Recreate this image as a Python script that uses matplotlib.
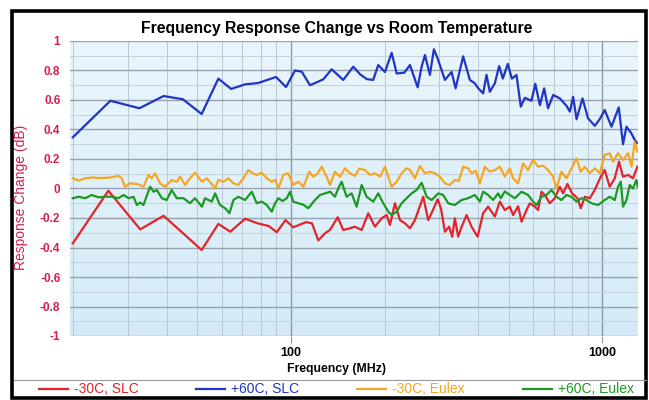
import numpy as np
import matplotlib
matplotlib.use("Agg")
import matplotlib.pyplot as plt
from matplotlib.ticker import FuncFormatter, LogLocator, NullFormatter, FixedLocator
from matplotlib.colors import LinearSegmentedColormap
from matplotlib.patches import Rectangle
from matplotlib.lines import Line2D

plt.rcParams['font.family'] = ['Liberation Sans', 'DejaVu Sans']

# --- data (MHz, dB) ---
freq_slc_cold = [20, 26, 32.9, 39.1, 51.8, 58.6, 64, 71.4, 78.3, 85.2, 90.2, 96.2, 101.9, 112, 117,
                 122.6, 128.8, 133.6, 141.5, 147.4, 154.9, 160.7, 168.9, 177.3, 186.3, 195.8, 203.1,
                 208.1, 216, 224.1, 232.5, 241.3, 250.3, 266.1, 276.1, 284.4, 296, 303.3, 312.4, 322.3,
                 329.6, 336.2, 344.5, 353.3, 366.6, 380.3, 397.6, 414.2, 429.8, 451.6, 468.6, 486.3,
                 504.6, 517.1, 536.5, 550.2, 570.8, 584.8, 606.7, 621.7, 637.5, 653.3, 677.8, 703.3,
                 729.6, 747.6, 772.3, 799, 831.6, 852, 877.7, 910.6, 944.8, 987.6, 1017, 1055, 1095,
                 1130, 1164, 1208, 1253, 1295]
slc_cold = [-0.372, -0.015, -0.277, -0.185, -0.417, -0.24, -0.293, -0.205, -0.236, -0.255, -0.297,
            -0.214, -0.263, -0.228, -0.236, -0.352, -0.304, -0.281, -0.195, -0.281, -0.27, -0.259,
            -0.281, -0.168, -0.259, -0.202, -0.18, -0.247, -0.10, -0.214, -0.236, -0.27, -0.214,
            -0.056, -0.214, -0.157, -0.073, -0.134, -0.293, -0.259, -0.327, -0.202, -0.327, -0.26,
            -0.18, -0.259, -0.327, -0.168, -0.123, -0.19, -0.089, -0.146, -0.123, -0.18, -0.12,
            -0.225, -0.146, -0.10, -0.123, -0.146, -0.022, -0.044, -0.10, -0.066, 0.012, -0.033,
            0.031, -0.033, -0.066, -0.134, -0.056, -0.066, -0.01, 0.08, 0.125, 0.012, 0.069, 0.182,
            0.08, 0.092, 0.069, 0.148]

freq_slc_hot = [20, 26.4, 32.7, 39.1, 45.1, 51.8, 58.6, 64.4, 71.4, 78.6, 89.7, 96.6, 103.2, 108.5,
                115.3, 127.2, 135.3, 147.4, 158.7, 166.8, 175.3, 183.9, 190.9, 200.6, 210.8, 218.7,
                231.3, 241.3, 255.4, 263, 269.5, 279.6, 287.9, 296, 312.3, 328.1, 338, 357.4, 375.5,
                389.6, 399.9, 414.2, 424.7, 435.2, 451.6, 466.2, 479.1, 497, 512, 530, 547, 564, 592,
                609, 630, 650, 669, 695, 730, 767, 786, 805, 826, 863, 899, 945, 980, 1017, 1069, 1128,
                1164, 1194, 1238, 1269, 1290]
slc_hot = [0.347, 0.595, 0.544, 0.627, 0.605, 0.505, 0.745, 0.675, 0.706, 0.715, 0.756, 0.688, 0.80,
           0.792, 0.70, 0.74, 0.808, 0.736, 0.826, 0.775, 0.742, 0.736, 0.837, 0.79, 0.92, 0.78,
           0.785, 0.837, 0.686, 0.826, 0.905, 0.77, 0.944, 0.882, 0.736, 0.79, 0.679, 0.896, 0.736,
           0.713, 0.679, 0.645, 0.77, 0.656, 0.713, 0.83, 0.745, 0.845, 0.745, 0.77, 0.555, 0.615,
           0.595, 0.71, 0.565, 0.679, 0.544, 0.634, 0.611, 0.56, 0.521, 0.622, 0.47, 0.611, 0.476,
           0.425, 0.47, 0.532, 0.419, 0.55, 0.30, 0.419, 0.374, 0.33, 0.31]

freq_eulex_cold = [20, 20.9, 21.9, 23.0, 24.2, 26.0, 28.0, 28.7, 29.4, 30.5, 32.1, 33.7, 35.0, 35.8,
                   36.7, 38.1, 39.5, 41.5, 43.1, 44.2, 45.8, 47.5, 49.3, 51.9, 53.8, 55.8, 57.2,
                   58.6, 60.8, 63.1, 65.5, 67.9, 70.5, 73.1, 75.5, 77.8, 80.7, 83.8, 86.9, 89.1,
                   91.3, 94.7, 98.2, 101.9, 105.8, 109.8, 114.7, 118.1, 121.9, 125.7, 130.4, 133.7,
                   138.7, 143.9, 149.3, 155.0, 160.8, 166.0, 173.1, 179.6, 186.3, 193.4, 200.6,
                   210.8, 218.7, 226.9, 235.4, 241.3, 250.3, 259.7, 269.5, 279.6, 290.1, 301.0,
                   312.3, 324.0, 336.2, 346.2, 357.4, 370.8, 380.3, 392.5, 404.3, 419.5, 435.3,
                   451.6, 468.6, 486.3, 504.5, 517.0, 536.4, 556.5, 577.4, 599.2, 621.7, 645.0,
                   669.3, 694.5, 712.2, 738.9, 766.6, 795.4, 825.4, 851.8, 877.5, 910.4, 944.6,
                   980.1, 1017, 1055, 1082, 1122, 1164, 1208, 1239, 1269, 1295]
eulex_cold = [0.069, 0.053, 0.069, 0.075, 0.071, 0.073, 0.085, 0.07, 0.012, 0.035, 0.031, 0.012,
              0.092, 0.069, 0.103, 0.035, 0.012, 0.058, 0.046, 0.08, 0.024, 0.069, 0.107, 0.046,
              0.069, 0.03, 0.001, 0.058, 0.046, 0.069, 0.035, 0.024, 0.069, 0.125, 0.103, 0.092,
              0.107, 0.069, 0.046, 0.06, 0.001, 0.092, 0.103, 0.024, 0.046, 0.012, 0.114, 0.08,
              0.10, 0.148, 0.08, 0.024, 0.114, 0.08, 0.137, 0.103, 0.085, 0.135, 0.125, 0.092,
              0.103, 0.08, 0.148, 0.012, 0.046, 0.103, 0.137, 0.125, 0.069, 0.153, 0.103, 0.114,
              0.103, 0.08, 0.035, 0.024, 0.058, 0.05, 0.148, 0.137, 0.103, 0.12, 0.035, 0.148,
              0.114, 0.125, 0.148, 0.08, 0.137, 0.069, 0.035, 0.171, 0.125, 0.193, 0.148, 0.155,
              0.125, 0.08, 0.001, 0.114, 0.069, 0.137, 0.205, 0.114, 0.148, 0.103, 0.137, 0.103,
              0.227, 0.239, 0.182, 0.239, 0.193, 0.239, 0.148, 0.317, 0.25]

freq_eulex_hot = [20, 20.9, 21.9, 23.0, 24.2, 25.4, 26.7, 28.0, 29.1, 30.2, 31.3, 32.1, 32.9, 33.7,
                  34.6, 35.4, 36.3, 37.2, 38.6, 40.0, 41.5, 43.1, 45.3, 47.5, 49.3, 51.9, 53.1,
                  55.8, 57.2, 59.3, 61.6, 63.6, 65.5, 67.9, 71.4, 75.0, 77.8, 80.7, 83.8, 86.9,
                  89.1, 91.3, 94.1, 97.1, 99.5, 101.9, 105.8, 109.8, 113.9, 119.6, 124.1, 128.8,
                  133.7, 138.7, 142.1, 145.7, 151.1, 156.8, 162.7, 168.9, 175.2, 183.9, 190.9,
                  198.1, 205.5, 210.8, 218.7, 226.9, 235.4, 244.3, 253.5, 263.0, 272.9, 283.1,
                  297.3, 308.5, 320.0, 336.2, 353.3, 370.8, 389.7, 404.3, 414.2, 429.8, 446.0,
                  462.8, 472, 486, 504.5, 523.5, 550.1, 577.4, 599.2, 614.4, 637.5, 661.4, 686.3,
                  712.2, 738.9, 766.6, 795.4, 825.4, 856.3, 888.5, 921.9, 968.1, 1017, 1055, 1095,
                  1122, 1145, 1164, 1194, 1223, 1253, 1285, 1298]
eulex_hot = [-0.066, -0.056, -0.066, -0.044, -0.06, -0.055, -0.056, -0.066, -0.044, -0.066, -0.056,
             -0.112, -0.095, -0.112, -0.044, 0.012, -0.022, -0.01, -0.066, -0.078, -0.01, -0.066,
             -0.066, -0.10, -0.066, -0.123, -0.066, -0.089, -0.033, -0.112, -0.134, -0.168, -0.078,
             -0.056, -0.078, -0.022, -0.10, -0.089, -0.112, -0.157, -0.10, -0.066, -0.085, -0.066,
             -0.022, -0.089, -0.10, -0.11, -0.134, -0.078, -0.044, -0.033, -0.022, -0.056, 0.001,
             0.046, -0.056, -0.033, -0.123, 0.024, -0.056, -0.089, -0.033, -0.10, -0.157, -0.18,
             -0.157, -0.10, -0.066, -0.033, -0.01, 0.039, -0.056, -0.078, -0.033, -0.044, -0.10,
             -0.112, -0.078, -0.066, -0.044, -0.089, -0.022, -0.044, -0.078, -0.033, -0.066, -0.02,
             -0.044, -0.066, -0.022, -0.044, -0.089, -0.112, -0.056, -0.044, -0.01, -0.056, -0.078,
             -0.044, -0.056, -0.089, -0.066, -0.078, -0.10, -0.112, -0.078, -0.056, -0.078, 0.012,
             0.046, -0.123, -0.078, 0.024, 0.0, 0.058, 0.012]

y_ticks = [-1, -0.8, -0.6, -0.4, -0.2, 0, 0.2, 0.4, 0.6, 0.8, 1]
y_minor = [-0.9, -0.7, -0.5, -0.3, -0.1, 0.1, 0.3, 0.5, 0.7, 0.9]

series = [
    (freq_slc_cold, slc_cold, '-30C, SLC', '#e3242b'),
    (freq_slc_hot, slc_hot, '+60C, SLC', '#1f35c4'),
    (freq_eulex_cold, eulex_cold, '-30C, Eulex', '#f5a623'),
    (freq_eulex_hot, eulex_hot, '+60C, Eulex', '#1a9a22'),
]
label_red = '#d81f4c'

fig = plt.figure(figsize=(6.49, 4.0), dpi=100)
ax = fig.add_axes([0.108, 0.16, 0.875, 0.7375])

# soft blue gradient behind the plot
grad = LinearSegmentedColormap.from_list('bg', ['#d4ebf7', '#eaf5fc'])
ax.imshow(np.linspace(0, 1, 256).reshape(-1, 1), extent=[0, 1, 0, 1], transform=ax.transAxes,
          aspect='auto', cmap=grad, origin='lower', zorder=0)

for f, v, lab, col in series:
    assert len(f) == len(v), lab
    ax.plot(f, v, color=col, lw=1.6, label=lab, zorder=3)

ax.set_xscale('log')
ax.set_xlim(19.6, 1300)
ax.set_ylim(-1, 1)
ax.set_aspect('auto')

ax.yaxis.set_major_locator(FixedLocator(y_ticks))
ax.yaxis.set_minor_locator(FixedLocator(y_minor))
ax.yaxis.set_major_formatter(FuncFormatter(lambda v, p: f'{round(v, 1):g}' if abs(v) > 1e-9 else '0'))
ax.xaxis.set_major_locator(FixedLocator([100, 1000]))
ax.xaxis.set_major_formatter(FuncFormatter(lambda v, p: f'{v:.0f}'))
ax.xaxis.set_minor_locator(LogLocator(base=10, subs=np.arange(2, 10)))
ax.xaxis.set_minor_formatter(NullFormatter())

ax.grid(True, which='major', axis='y', color='#98a3ad', lw=1.0, zorder=1)
ax.grid(True, which='minor', axis='y', color='#c3d2dc', lw=0.7, zorder=1)
ax.grid(True, which='major', axis='x', color='#8e99a3', lw=1.0, zorder=1)
ax.grid(True, which='minor', axis='x', color='#b9c8d3', lw=0.7, zorder=1)
ax.set_axisbelow(True)

for s in ax.spines.values():
    s.set_visible(False)
ax.tick_params(axis='y', which='both', length=0, labelsize=8.5, labelcolor=label_red, pad=7)
ax.tick_params(axis='x', which='major', length=5, color='#8e99a3', labelsize=9, pad=3)
ax.tick_params(axis='x', which='minor', length=0)
for t in ax.get_yticklabels() + ax.get_xticklabels():
    t.set_fontweight('bold')

ax.set_ylabel('Response Change (dB)', color=label_red, fontsize=10)
ax.yaxis.set_label_coords(-0.074, 0.471)
ax.set_xlabel('Frequency (MHz)', fontsize=8.8, fontweight='bold', labelpad=3, x=0.469)
ax.set_title('Frequency Response Change vs Room Temperature', fontsize=11.3, fontweight='bold',
             pad=6, x=0.469)

# legend strip along the bottom
leg = fig.legend(loc='lower left', bbox_to_anchor=(36 / 649, 0.002), ncol=4, frameon=False,
                 borderpad=0.2, borderaxespad=0, handlelength=2.1,
                 handletextpad=0.43, columnspacing=4.15, prop={'size': 10})
for txt, (_, _, _, col) in zip(leg.get_texts(), series):
    txt.set_color(col)

fig.add_artist(Line2D([0.022, 0.995], [0.05, 0.05], transform=fig.transFigure, color='#9a9a9a', lw=0.8))
fig.add_artist(Rectangle((0.019, 0.004), 0.977, 0.968, transform=fig.transFigure, fill=False,
                         edgecolor='black', lw=2.6))

fig.savefig('out.png', dpi=100)
